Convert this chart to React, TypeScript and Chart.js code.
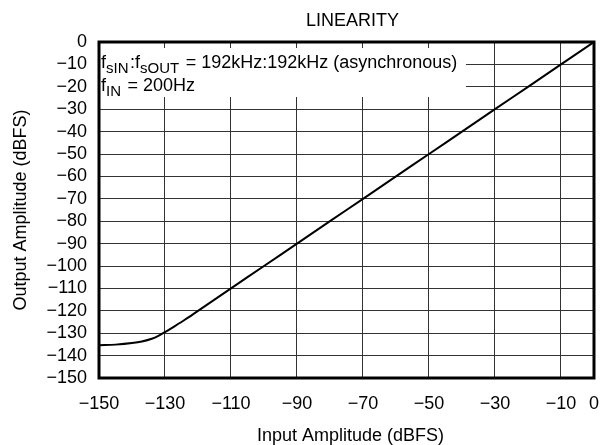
import React, { useEffect, useRef } from 'react';
import { Chart, registerables } from 'chart.js';

Chart.register(...registerables);

// ---- data ----
const inputLevels = [-150, -145, -140, -137, -134, -132, -130, -127, -124, -120, -110, -100, -90, -80, -70, -60, -50, -40, -30, -20, -10, 0];
const outputLevels = [-135.4, -135.1, -134.4, -133.7, -132.5, -131.2, -129.5, -126.8, -124.0, -120.0, -110, -100, -90, -80, -70, -60, -50, -40, -30, -20, -10, 0];
const xTickValues = [-150, -130, -110, -90, -70, -50, -30, -10, 0];
const yTickValues = [0, -10, -20, -30, -40, -50, -60, -70, -80, -90, -100, -110, -120, -130, -140, -150];

const chartTitle = 'LINEARITY';
const xAxisTitle = 'Input Amplitude (dBFS)';
const yAxisTitle = 'Output Amplitude (dBFS)';
// [text, isSubscript]
const noteLine1: [string, boolean][] = [['f', false], ['sIN', true], [':', false], ['f', false], ['sOUT', true], [' = 192kHz:192kHz (asynchronous)', false]];
const noteLine2: [string, boolean][] = [['f', false], ['IN', true], [' = 200Hz', false]];

const FONT = '"Liberation Sans", Arial, Helvetica, sans-serif';
const fmt = (v: number) => (v < 0 ? '\u2212' + Math.abs(v) : String(v));

const annotPlugin = {
  id: 'annot',
  beforeDatasetsDraw(chart: any) {
    const { ctx, chartArea } = chart;
    ctx.save();
    ctx.fillStyle = '#fff';
    ctx.fillRect(chartArea.left + 1, 48, 465 - chartArea.left, 49);
    ctx.fillStyle = '#000';
    ctx.textBaseline = 'alphabetic';
    ctx.textAlign = 'left';
    const drawRich = (parts: [string, boolean][], x: number, y: number) => {
      for (const [t, sub] of parts) {
        ctx.font = sub ? `15px ${FONT}` : `18px ${FONT}`;
        ctx.fillText(t, x, sub ? y + 5 : y);
        x += ctx.measureText(t).width + (sub ? 1.5 : 0);
      }
    };
    drawRich(noteLine1, chartArea.left + 2, 68);
    drawRich(noteLine2, chartArea.left + 2, 91);
    ctx.restore();
  },
  afterDraw(chart: any) {
    const { ctx, chartArea } = chart;
    ctx.save();
    ctx.strokeStyle = '#000';
    ctx.lineWidth = 3;
    ctx.strokeRect(chartArea.left, chartArea.top, chartArea.right - chartArea.left, chartArea.bottom - chartArea.top);
    ctx.fillStyle = '#000';
    ctx.font = `18px ${FONT}`;
    ctx.textAlign = 'center';
    ctx.textBaseline = 'alphabetic';
    const cx = (chartArea.left + chartArea.right) / 2;
    ctx.fillText(chartTitle, cx + 6, 26);
    ctx.fillText(xAxisTitle, cx + 4, 441);
    ctx.translate(26, (chartArea.top + chartArea.bottom) / 2);
    ctx.rotate(-Math.PI / 2);
    ctx.fillText(yAxisTitle, 0, 0);
    ctx.restore();
  },
};

export default function App() {
  const ref = useRef<HTMLCanvasElement | null>(null);
  useEffect(() => {
    if (!ref.current) return;
    const chart = new Chart(ref.current, {
      type: 'line',
      data: {
        datasets: [
          {
            data: inputLevels.map((x, i) => ({ x, y: outputLevels[i] })),
            borderColor: '#000',
            borderWidth: 2,
            pointRadius: 0,
            fill: false,
            cubicInterpolationMode: 'monotone',
          },
        ],
      },
      options: {
        animation: false,
        responsive: false,
        layout: { padding: { top: 42, right: 19, left: 0, bottom: 0 } },
        plugins: { legend: { display: false }, tooltip: { enabled: false }, title: { display: false } },
        scales: {
          x: {
            type: 'linear',
            min: -150,
            max: 0,
            afterBuildTicks: (axis: any) => {
              axis.ticks = xTickValues.map((v) => ({ value: v }));
            },
            afterFit: (s: any) => {
              s.height = 67;
            },
            grid: { color: '#333', lineWidth: 1, drawTicks: false },
            border: { display: false },
            ticks: {
              color: '#000',
              font: { family: FONT, size: 18 },
              padding: 15,
              maxRotation: 0,
              autoSkip: false,
              callback: (v: any) => fmt(Number(v)),
            },
          },
          y: {
            type: 'linear',
            min: -150,
            max: 0,
            afterBuildTicks: (axis: any) => {
              axis.ticks = yTickValues.map((v) => ({ value: v }));
            },
            afterFit: (s: any) => {
              s.width = 99;
            },
            grid: { color: '#333', lineWidth: 1, drawTicks: false },
            border: { display: false },
            ticks: {
              color: '#000',
              font: { family: FONT, size: 18 },
              padding: 12,
              autoSkip: false,
              callback: (v: any) => fmt(Number(v)),
            },
          },
        },
      },
      plugins: [annotPlugin],
    } as any);
    return () => chart.destroy();
  }, []);
  return (
    <div style={{ position: 'absolute', left: 0, top: 0, width: 614, height: 445 }}>
      <canvas ref={ref} width={614} height={445} style={{ display: 'block' }} />
    </div>
  );
}
